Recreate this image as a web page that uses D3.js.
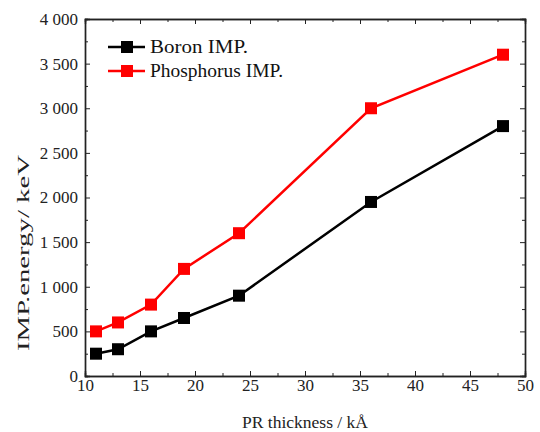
<!DOCTYPE html>
<html>
<head>
<meta charset="utf-8">
<script src="https://cdn.jsdelivr.net/npm/d3@7"></script>
<style>
  body { margin: 0; background: #fff; }
</style>
</head>
<body>
<svg id="chart"></svg>
<script>
// datos
let thickness = [11, 13, 16, 19, 24, 36, 48];
let boron = [250, 300, 500, 650, 900, 1950, 2800];
let phosphorus = [500, 600, 800, 1200, 1600, 3000, 3600];
let seriesNames = ["Boron IMP.", "Phosphorus IMP."];
let seriesColors = ["#000000", "#ff0000"];
let xTicks = [10, 15, 20, 25, 30, 35, 40, 45, 50];
let yTicks = [0, 500, 1000, 1500, 2000, 2500, 3000, 3500, 4000];

let width = 540, height = 432;
let margin = {left: 85, right: 15, top: 19, bottom: 56};
let serif = "'Liberation Serif', 'Times New Roman', Tinos, 'DejaVu Serif', serif";

let svg = d3.select("#chart").attr("width", width).attr("height", height);

let x = d3.scaleLinear().domain([10, 50]).range([margin.left, width - margin.right]);
let y = d3.scaleLinear().domain([0, 4000]).range([height - margin.bottom, margin.top]);

let fmt = d => d3.format(",")(d).replace(",", " ");

let xMinor = d3.range(12.5, 50, 5);
let yMinor = d3.range(250, 4000, 500);

// ejes: abajo/izquierda con etiquetas, arriba/derecha solo marcas (hacia dentro)
function axisGroup(axis, tx, ty) {
  return svg.append("g").attr("transform", "translate(" + tx + "," + ty + ")").call(axis)
    .attr("font-family", serif);
}
let yBot = y.range()[0], yTop = y.range()[1];
let xLeft = x.range()[0], xRight = x.range()[1];

axisGroup(d3.axisBottom(x).tickValues(xTicks).tickSize(-5).tickPadding(3).tickFormat(d3.format("d")), 0, yBot);
axisGroup(d3.axisBottom(x).tickValues(xMinor).tickSize(-3).tickFormat(""), 0, yBot);
axisGroup(d3.axisTop(x).tickValues(xTicks).tickSize(-5).tickFormat(""), 0, yTop);
axisGroup(d3.axisTop(x).tickValues(xMinor).tickSize(-3).tickFormat(""), 0, yTop);
axisGroup(d3.axisLeft(y).tickValues(yTicks).tickSize(-5).tickPadding(7).tickFormat(fmt), xLeft, 0);
axisGroup(d3.axisLeft(y).tickValues(yMinor).tickSize(-3).tickFormat(""), xLeft, 0);
axisGroup(d3.axisRight(y).tickValues(yTicks).tickSize(-5).tickFormat(""), xRight, 0);
axisGroup(d3.axisRight(y).tickValues(yMinor).tickSize(-3).tickFormat(""), xRight, 0);

svg.selectAll(".domain").attr("stroke", "#222").attr("stroke-width", 1.4);
svg.selectAll(".tick line").attr("stroke", "#222").attr("stroke-width", 1);
svg.selectAll(".tick text").style("font-size", "17px").style("font-family", serif).attr("fill", "#222");

// titulos de ejes
svg.append("text")
  .attr("x", (xLeft + xRight) / 2).attr("y", 428)
  .attr("text-anchor", "middle").style("font-size", "16px").style("font-family", serif)
  .attr("fill", "#222")
  .attr("textLength", 126).attr("lengthAdjust", "spacingAndGlyphs")
  .text("PR thickness / kÅ");
svg.append("text")
  .attr("transform", "translate(29,253) rotate(-90)")
  .attr("text-anchor", "middle").style("font-size", "16px").style("font-family", serif)
  .attr("fill", "#222")
  .attr("textLength", 196).attr("lengthAdjust", "spacingAndGlyphs")
  .text("IMP.energy/ keV");

// series
let series = [boron, phosphorus];
let line = d3.line().x((d, i) => x(thickness[i])).y(d => y(d));
let ms = 12;

series.forEach(function(vals, s) {
  svg.append("path")
    .datum(vals)
    .attr("d", line)
    .attr("fill", "none")
    .attr("stroke", seriesColors[s])
    .attr("stroke-width", 2.5);
  svg.selectAll(".m" + s)
    .data(vals)
    .enter()
    .append("rect")
    .attr("x", (d, i) => x(thickness[i]) - ms / 2)
    .attr("y", d => y(d) - ms / 2)
    .attr("width", ms).attr("height", ms)
    .attr("fill", seriesColors[s]);
});

// leyenda
let legLen = [98, 133];
let leg = svg.append("g");
seriesNames.forEach(function(name, s) {
  let ly = 47 + s * 24;
  leg.append("line").attr("x1", 108).attr("x2", 145).attr("y1", ly).attr("y2", ly)
    .attr("stroke", seriesColors[s]).attr("stroke-width", 2.5);
  leg.append("rect").attr("x", 127 - ms / 2).attr("y", ly - ms / 2)
    .attr("width", ms).attr("height", ms).attr("fill", seriesColors[s]);
  leg.append("text").attr("x", 150).attr("y", ly + 6)
    .style("font-size", "18px").style("font-family", serif).attr("fill", "#111")
    .attr("textLength", legLen[s]).attr("lengthAdjust", "spacingAndGlyphs")
    .text(name);
});
</script>
</body>
</html>
